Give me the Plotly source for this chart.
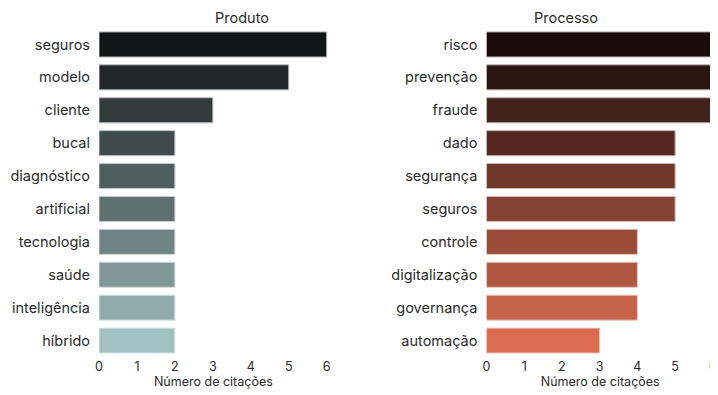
import plotly.graph_objects as go

# Produto
prod_terms = ["seguros", "modelo", "cliente", "bucal", "diagnóstico", "artificial",
              "tecnologia", "saúde", "inteligência", "híbrido"]
prod_counts = [6, 5, 3, 2, 2, 2, 2, 2, 2, 2]
prod_colors = ["#121617", "#22282a", "#323a3b", "#3f4b4b", "#4f5f5f", "#5e7070",
               "#6e8383", "#7f9797", "#8fabab", "#a0c0c1"]

# Processo
proc_terms = ["risco", "prevenção", "fraude", "dado", "segurança", "seguros",
              "controle", "digitalização", "governança", "automação"]
proc_counts = [7, 7, 6, 5, 5, 5, 4, 4, 4, 3]
proc_colors = ["#190c0a", "#2b1711", "#42221a", "#55281f", "#6d3829", "#844331",
               "#9b4c39", "#b05842", "#c4624a", "#db6c50"]

FONT = "Inter"
TXT = "#2b2b2b"


def edge(hexc, a=0.35):
    h = hexc.lstrip("#")
    r, g, b = int(h[0:2], 16), int(h[2:4], 16), int(h[4:6], 16)
    r = int(r * a + 255 * (1 - a)); g = int(g * a + 255 * (1 - a)); b = int(b * a + 255 * (1 - a))
    return "rgb(%d,%d,%d)" % (r, g, b)


fig = go.Figure()
fig.add_trace(go.Bar(x=prod_counts, y=prod_terms, orientation="h",
                     marker=dict(color=prod_colors,
                                 line=dict(color=[edge(c) for c in prod_colors], width=1)),
                     xaxis="x", yaxis="y", showlegend=False))
fig.add_trace(go.Bar(x=proc_counts, y=proc_terms, orientation="h",
                     marker=dict(color=proc_colors,
                                 line=dict(color=[edge(c) for c in proc_colors], width=1)),
                     xaxis="x2", yaxis="y2", showlegend=False))

xax = dict(range=[0, 6.03], tickvals=[0, 1, 2, 3, 4, 5, 6], showgrid=False, zeroline=False,
           showline=False, ticks="", automargin=False, tickfont=dict(size=12.5, color=TXT),
           title=dict(text="Número de citações", font=dict(size=12.5, color=TXT), standoff=2))
yax = dict(autorange="reversed", showgrid=False, zeroline=False, showline=False, ticks="",
           automargin=False, ticklabelstandoff=8, tickfont=dict(size=14.5, color=TXT))

# page body adds an 8px offset, so margins are shifted to compensate
fig.update_layout(
    width=718, height=395,
    margin=dict(l=91, r=12, t=20, b=46),
    plot_bgcolor="white", paper_bgcolor="white",
    font=dict(family=FONT, color=TXT),
    bargap=0.24,
    xaxis=dict(xax, domain=[0, 0.372]),
    xaxis2=dict(xax, domain=[0.63, 1], anchor="y2"),
    yaxis=dict(yax, anchor="x"),
    yaxis2=dict(yax, anchor="x2"),
    annotations=[
        dict(text="Produto", x=0.186, xref="paper", y=1, yref="paper", yanchor="bottom",
             yshift=0, showarrow=False, font=dict(size=14.5, color=TXT)),
        dict(text="Processo", x=0.815, xref="paper", y=1, yref="paper", yanchor="bottom",
             yshift=0, showarrow=False, font=dict(size=14.5, color=TXT)),
    ],
)

fig.write_html("out.html")
